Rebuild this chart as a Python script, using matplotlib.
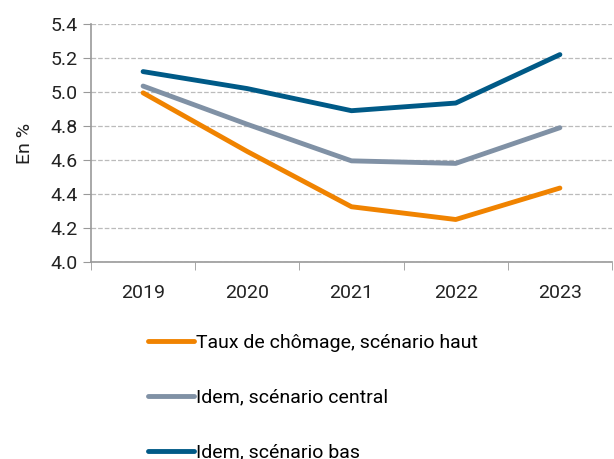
import matplotlib
matplotlib.use("Agg")
import matplotlib.pyplot as plt
import numpy as np

plt.rcParams['font.family'] = ['Roboto', 'DejaVu Sans']

years = ['2019', '2020', '2021', '2022', '2023']
haut = [4.995, 4.65, 4.325, 4.25, 4.435]
central = [5.035, 4.81, 4.595, 4.58, 4.79]
bas = [5.12, 5.02, 4.89, 4.935, 5.22]

labels = ['Taux de chômage, scénario haut', 'Idem, scénario central', 'Idem, scénario bas']
colors = ['#f08300', '#8091a5', '#005a87']

fig = plt.figure(figsize=(6.14, 4.59), dpi=100)
ax = fig.add_axes([91/614, 1 - 262/459, 521/614, 238/459])

x = np.arange(len(years))
for vals, lab, c in zip([haut, central, bas], labels, colors):
    ax.plot(x, vals, color=c, lw=3.5, label=lab, solid_capstyle='round')

ax.set_xlim(-0.5, len(years) - 0.5)
ax.set_ylim(4.0, 5.4)
ax.set_yticks(np.arange(4.0, 5.41, 0.2))
ax.set_yticklabels([f'{v:.1f}' for v in np.arange(4.0, 5.41, 0.2)])
ax.set_xticks(x)
ax.set_xticklabels(years)
ax.set_xticks(np.arange(-0.5, len(years), 1), minor=True)
ax.tick_params(axis='x', which='major', length=0, pad=16, labelsize=14, colors='#222222')
ax.tick_params(axis='x', which='minor', length=6, color='#999999')
ax.tick_params(axis='y', length=6, color='#999999', labelsize=14, labelcolor='#222222')
ax.grid(axis='y', ls='--', color='#bbbbbb', lw=0.9)
ax.set_axisbelow(True)
for s in ['top', 'right']:
    ax.spines[s].set_visible(False)
for s in ['left', 'bottom']:
    ax.spines[s].set_color('#999999')
    ax.spines[s].set_linewidth(1.2)
ax.set_ylabel('En %', fontsize=14, color='#222222', labelpad=12)

fig.legend(loc='upper left', bbox_to_anchor=(130/614, 1 - 316/459), frameon=False,
           fontsize=14, handlelength=2.4, handletextpad=0.1, labelspacing=1.9)

fig.savefig('out.png', dpi=100)
